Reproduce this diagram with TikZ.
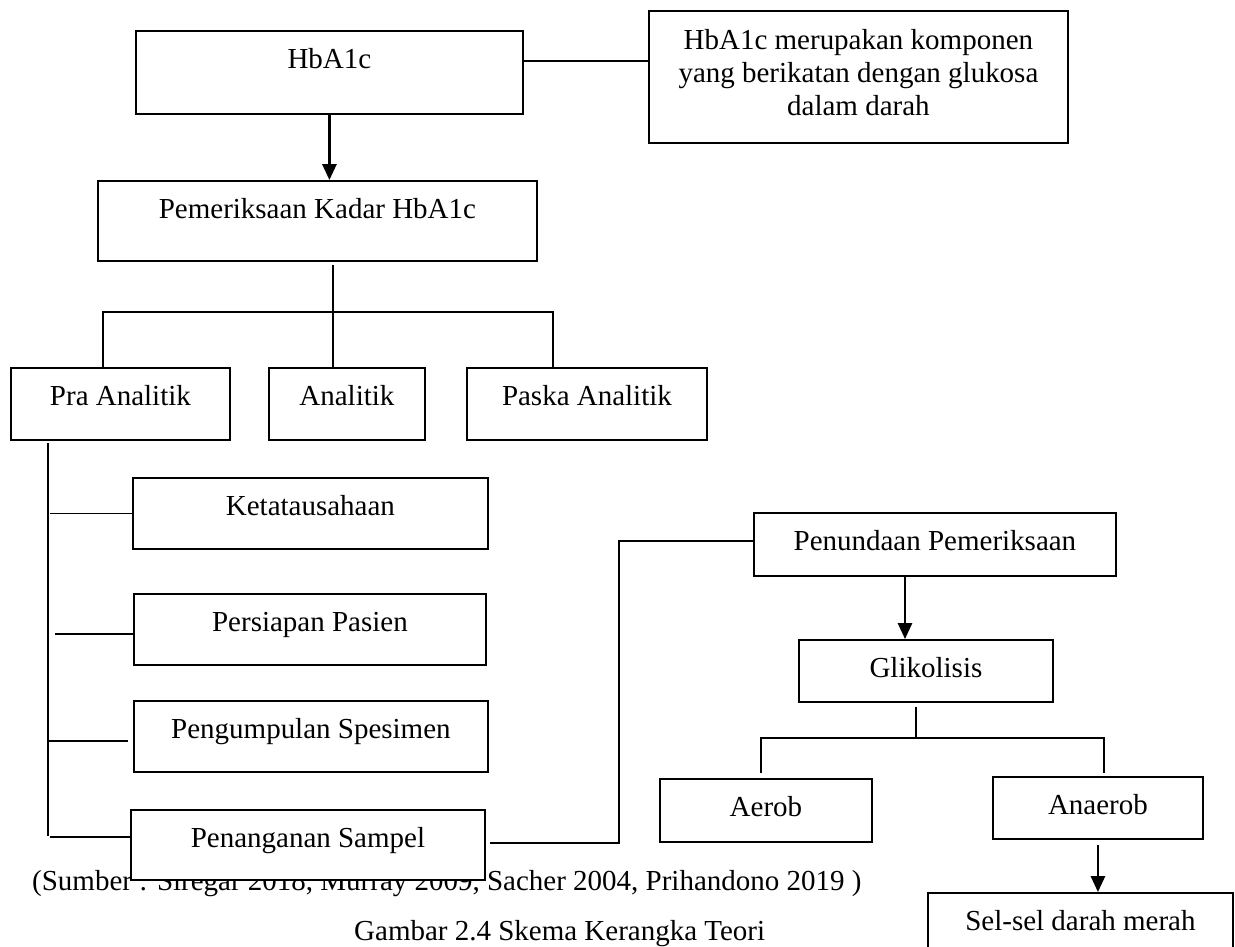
\documentclass[tikz,border=0pt]{standalone}
\usepackage{fontspec}
\setmainfont{Liberation Serif}
\usetikzlibrary{arrows.meta, positioning, calc}

\begin{document}
\begin{tikzpicture}[
		x=0.02cm, y=-0.02cm,
		>={Triangle[width=8pt,length=9pt]},
		font=\fontsize{16.5}{19}\selectfont,
		box/.style={draw, line width=1.1pt, inner sep=0pt, anchor=north west, align=center, fill=white, text height=0.76cm},
		link/.style={line width=1pt},
		flow/.style={->, line width=1.3pt}
		]
		\useasboundingbox (0,0) rectangle (1235,947);
		
		% =========================================================
		% 0. Captions (drawn first, the last box covers them)
		% =========================================================
		\node[anchor=base west] (Sumber) at (26,890) {(Sumber : Siregar 2018, Murray 2009, Sacher 2004, Prihandono 2019 )};
		\node[anchor=base west] (Gambar) at (348,940) {Gambar 2.4 Skema Kerangka Teori};
		
		% =========================================================
		% 1. HbA1c and the examination
		% =========================================================
		\node[box, minimum width=7.74cm, text depth=0.9cm] (HbA1c) at (135,30) {HbA1c};
		\node[box, minimum width=8.38cm, text height=2.1cm, text depth=0.54cm] (Desc) at (648,10) {
			HbA1c merupakan komponen\\
			yang berikatan dengan glukosa\\
			dalam darah
		};
		\node[box, minimum width=8.78cm, text depth=0.84cm] (Pem) at (97,180) {Pemeriksaan Kadar HbA1c};
		
		\coordinate (lvl) at (0,61);
		\draw[link] (HbA1c.east |- lvl) -- (Desc.west |- lvl);
		\draw[flow] (HbA1c.south) -- (HbA1c.south |- Pem.north);
		
		% =========================================================
		% 2. The three phases
		% =========================================================
		\node[box, minimum width=4.38cm, text depth=0.68cm] (Pra) at (10,367) {Pra Analitik};
		\node[box, minimum width=3.12cm, text depth=0.68cm] (Ana) at (268,367) {Analitik};
		\node[box, minimum width=4.8cm, text depth=0.68cm] (Paska) at (466,367) {Paska Analitik};
		
		\coordinate (hub) at (333,312);
		\coordinate (hubL) at (103,312);
		\coordinate (hubR) at (553,312);
		\draw[link] ([yshift=-0.06cm]hub |- Pem.south) -- (hub |- Ana.north);
		\draw[link] (hubL |- Pra.north) -- (hubL) -- (hubR) -- (hubR |- Paska.north);
		
		% =========================================================
		% 3. Pra analitik steps
		% =========================================================
		\node[box, minimum width=7.1cm, text depth=0.66cm] (Ket) at (132,477) {Ketatausahaan};
		\node[box, minimum width=7.04cm, text depth=0.66cm] (Pers) at (133,593) {Persiapan Pasien};
		\node[box, minimum width=7.08cm, text depth=0.66cm] (Peng) at (133,700) {Pengumpulan Spesimen};
		\node[box, minimum width=7.08cm, text depth=0.64cm] (Pen) at (130,809) {Penanganan Sampel};
		
		\coordinate (trunk) at (48,443);
		\coordinate (trunkEnd) at (48,836);
		\draw[link] (trunk) -- (trunkEnd);
		\draw[link] ([xshift=0.04cm]trunk |- Ket.west) -- (Ket.west);
		\draw[link] ([xshift=0.14cm,yshift=-0.09cm]trunk |- Pers.west) -- ([xshift=0.04cm,yshift=-0.09cm]Pers.west);
		\draw[link] ([yshift=-0.09cm]trunk |- Peng.west) -- ([xshift=-0.1cm,yshift=-0.09cm]Peng.west);
		\draw[link] ([xshift=0.04cm,yshift=0.16cm]trunk |- Pen.west) -- ([yshift=0.16cm]Pen.west);
		
		% =========================================================
		% 4. Delay of the examination
		% =========================================================
		\node[box, minimum width=7.24cm, text depth=0.5cm] (Pund) at (753,512) {Penundaan Pemeriksaan};
		\node[box, minimum width=5.08cm, text depth=0.48cm] (Gliko) at (798,639) {Glikolisis};
		\node[box, minimum width=4.24cm, text depth=0.5cm] (Aerob) at (659,778) {Aerob};
		\node[box, minimum width=4.2cm, text depth=0.48cm] (Anaerob) at (992,776) {Anaerob};
		\node[box, minimum width=6.1cm, text depth=0.5cm] (Sel) at (927,892) {Sel-sel darah merah};
		
		\coordinate (elbow) at (619,541);
		\draw[link] ([xshift=0.08cm,yshift=0.04cm]Pen.east) -| (elbow) -- (Pund.west |- elbow);
		
		\coordinate (drop) at (905,0);
		\draw[flow] (drop |- Pund.south) -- (drop |- Gliko.north);
		
		\coordinate (hub2) at (916,738);
		\coordinate (hub2L) at (761,738);
		\coordinate (hub2R) at (1104,738);
		\draw[link] ([yshift=-0.08cm]hub2 |- Gliko.south) -- (hub2);
		\draw[link] ([yshift=0.1cm]hub2L |- Aerob.north) -- (hub2L) -- (hub2R) -- ([yshift=0.06cm]hub2R |- Anaerob.north);
		\draw[flow] ([yshift=-0.1cm]Anaerob.south) -- (Anaerob.south |- Sel.north);
	\end{tikzpicture}
\end{document}
